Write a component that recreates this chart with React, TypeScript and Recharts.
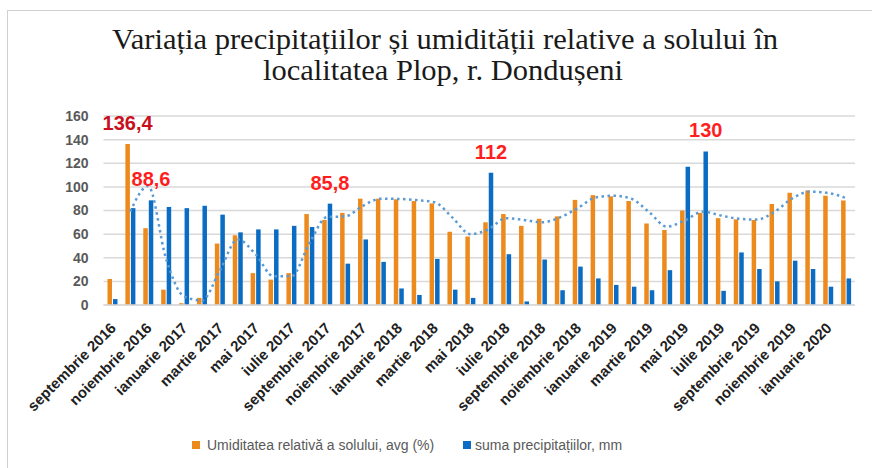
import React from 'react';
import { ComposedChart, Bar, Line, XAxis, YAxis, CartesianGrid, Legend, LabelList } from 'recharts';

const months = [
  'septembrie 2016', 'octombrie 2016', 'noiembrie 2016', 'decembrie 2016',
  'ianuarie 2017', 'februarie 2017', 'martie 2017', 'aprilie 2017', 'mai 2017', 'iunie 2017',
  'iulie 2017', 'august 2017', 'septembrie 2017', 'octombrie 2017', 'noiembrie 2017', 'decembrie 2017',
  'ianuarie 2018', 'februarie 2018', 'martie 2018', 'aprilie 2018', 'mai 2018', 'iunie 2018',
  'iulie 2018', 'august 2018', 'septembrie 2018', 'octombrie 2018', 'noiembrie 2018', 'decembrie 2018',
  'ianuarie 2019', 'februarie 2019', 'martie 2019', 'aprilie 2019', 'mai 2019', 'iunie 2019',
  'iulie 2019', 'august 2019', 'septembrie 2019', 'octombrie 2019', 'noiembrie 2019', 'decembrie 2019',
  'ianuarie 2020', 'februarie 2020',
];

const humidity = [
  22, 136.4, 65, 13, 1.5, 6, 52, 59, 27, 21.5,
  27, 77, 72, 78, 90, 90, 89.5, 88, 86, 62,
  58, 70, 77, 67, 73, 75, 89, 93, 92, 88,
  69, 63.5, 80, 78, 73.5, 72.5, 72, 85.5, 95, 97,
  92.5, 88.5,
];

const precipitation = [
  5, 82, 88.6, 83, 82, 84, 76.5, 61.5, 64, 64,
  67, 66, 85.8, 35, 55.5, 36.5, 14, 8.5, 39, 13,
  6, 112, 43, 3, 38.5, 12.5, 32.5, 22.5, 17, 15.5,
  12.5, 29.5, 117, 130, 12, 44.5, 30.5, 20, 37.5, 30.5,
  15.5, 22.5,
];

// trend line (2-period moving average of soil humidity)
const trend = [
  null, 79.2, 100.7, 39, 7.3, 3.8, 29, 55.5, 43, 24.3,
  24.3, 52, 74.5, 75, 84, 90, 89.8, 88.8, 87, 74,
  60, 64, 73.5, 72, 70, 74, 82, 91, 92.5, 90,
  78.5, 66.3, 71.8, 79, 75.8, 73, 72.3, 78.8, 90.3, 96,
  94.8, 90.5,
];

const humidityLabelIdx = [1];
const precipLabelIdx = [2, 12, 21, 33];
const yTicks = [0, 20, 40, 60, 80, 100, 120, 140, 160];

const titleLine1 = 'Variația precipitațiilor și umidității relative a solului în';
const titleLine2 = 'localitatea Plop, r. Dondușeni';

const ORANGE = '#EC8A1D';
const BLUE = '#0A6CC2';

const data = months.map((m, i) => ({
  month: m,
  humidity: humidity[i],
  precipitation: precipitation[i],
  trend: trend[i],
  humLabel: humidityLabelIdx.includes(i) ? String(humidity[i]).replace('.', ',') : null,
  precLabel: precipLabelIdx.includes(i) ? String(precipitation[i]).replace('.', ',') : null,
}));

const makeLabel = (color: string) => (props: any) => {
  const { x, y, width, value } = props;
  if (value === null || value === undefined || value === '') return null;
  return (
    <text
      x={Number(x) + Number(width) / 2}
      y={Number(y) - 21}
      textAnchor="middle"
      dominantBaseline="central"
      fontFamily="Liberation Sans, Arial, sans-serif"
      fontWeight="bold"
      fontSize={20}
      fill={color}
    >
      {value}
    </text>
  );
};

const XTick = (props: any) => {
  const { x, y, payload } = props;
  return (
    <g transform={`translate(${x + 4.5},${y + 24})`}>
      <text
        x={0}
        y={0}
        textAnchor="end"
        transform="rotate(-45)"
        fontFamily="Liberation Sans, Arial, sans-serif"
        fontWeight="bold"
        fontSize={15}
        fill="#1f1f1f"
      >
        {payload.value}
      </text>
    </g>
  );
};

const LegendContent = (props: any) => {
  const items = [
    { name: 'Umiditatea relativă a solului, avg (%)', color: ORANGE, sq: 192, tx: 207 },
    { name: 'suma precipitațiilor, mm', color: BLUE, sq: 463, tx: 475 },
  ];
  return (
    <div style={{ position: 'relative', width: 872, height: 22 }}>
      {items.map((it) => (
        <React.Fragment key={it.name}>
          <div style={{ position: 'absolute', left: it.sq, top: 7, width: 8, height: 8, background: it.color }} />
          <div
            style={{
              position: 'absolute',
              left: it.tx,
              top: 2,
              fontFamily: 'Liberation Sans, Arial, sans-serif',
              fontSize: 14,
              lineHeight: '18px',
              color: '#595959',
              whiteSpace: 'nowrap',
            }}
          >
            {it.name}
          </div>
        </React.Fragment>
      ))}
    </div>
  );
};

export default function App() {
  return (
    <div style={{ position: 'relative', width: 872, height: 468, background: '#fff', overflow: 'hidden' }}>
      <style>{'body{margin:0;}'}</style>
      <div
        style={{
          position: 'absolute',
          left: 7,
          top: 10,
          width: 900,
          height: 500,
          border: '1px solid #D0D0D0',
          boxSizing: 'border-box',
        }}
      />
      <svg width={872} height={100} style={{ position: 'absolute', left: 0, top: 0 }}>
        <text
          x={112}
          y={49}
          textLength={666}
          lengthAdjust="spacingAndGlyphs"
          fontFamily="Liberation Serif, Times New Roman, serif"
          fontSize={29}
          fill="#1a1a1a"
        >
          {titleLine1}
        </text>
        <text
          x={263}
          y={80}
          textLength={360}
          lengthAdjust="spacingAndGlyphs"
          fontFamily="Liberation Serif, Times New Roman, serif"
          fontSize={29}
          fill="#1a1a1a"
        >
          {titleLine2}
        </text>
      </svg>
      <div style={{ position: 'absolute', left: 0, top: 0 }}>
        <ComposedChart
          width={872}
          height={468}
          data={data}
          margin={{ top: 116, right: 17, left: 43.5, bottom: 53 }}
          barGap={1}
        >
          <CartesianGrid vertical={false} stroke="#D9D9D9" strokeWidth={1.5} />
          <XAxis
            dataKey="month"
            interval={1}
            tickLine={false}
            tickSize={0}
            tickMargin={0}
            axisLine={{ stroke: '#D9D9D9', strokeWidth: 1.5 }}
            height={110}
            tick={<XTick />}
          />
          <YAxis
            width={60}
            domain={[0, 160]}
            ticks={yTicks}
            tickLine={false}
            axisLine={false}
            tickSize={0}
            tickMargin={15}
            tick={{ fontFamily: 'Liberation Sans, Arial, sans-serif', fontWeight: 'bold', fontSize: 14, fill: '#595959' }}
          />
          <Legend
            layout="horizontal"
            verticalAlign="middle"
            align="center"
            wrapperStyle={{ top: 434, left: 0, width: 872, height: 22 }}
            content={<LegendContent />}
          />
          <Bar
            dataKey="humidity"
            name="Umiditatea relativă a solului, avg (%)"
            fill={ORANGE}
            barSize={4.5}
            isAnimationActive={false}
          >
            <LabelList dataKey="humLabel" content={makeLabel('#C8101E')} />
          </Bar>
          <Bar
            dataKey="precipitation"
            name="suma precipitațiilor, mm"
            fill={BLUE}
            barSize={4.5}
            isAnimationActive={false}
          >
            <LabelList dataKey="precLabel" content={makeLabel('#FF1E1E')} />
          </Bar>
          <Line
            dataKey="trend"
            type="monotone"
            stroke="#5B9BD5"
            strokeWidth={2.5}
            strokeDasharray="2.5 3.5"
            dot={false}
            activeDot={false}
            legendType="none"
            connectNulls={false}
            isAnimationActive={false}
          />
        </ComposedChart>
      </div>
    </div>
  );
}
